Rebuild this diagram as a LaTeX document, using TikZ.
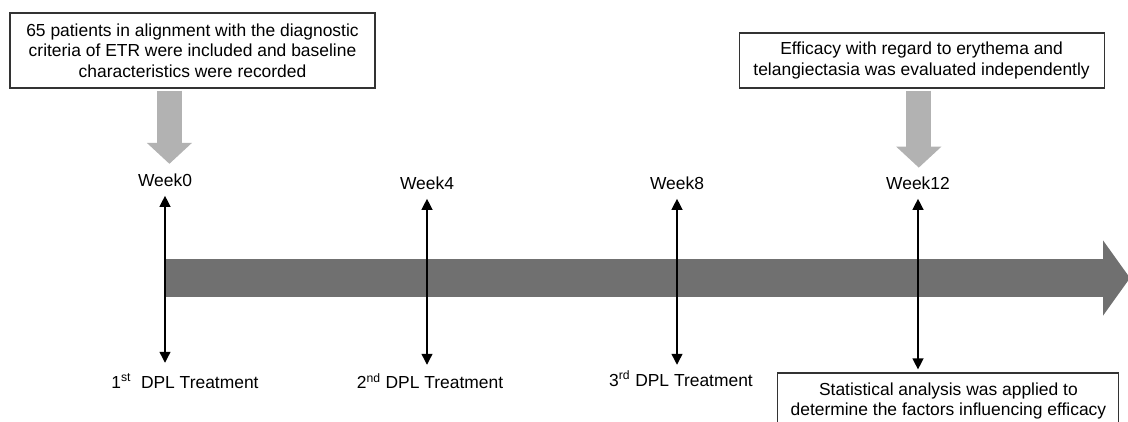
\documentclass[tikz,border=0pt]{standalone}
\usepackage{fontspec}
\setmainfont{Liberation Sans}
\usepackage{tikz}
\usetikzlibrary{positioning,calc,arrows.meta}
\definecolor{bargray}{RGB}{112,112,112}
\definecolor{pointgray}{RGB}{178,178,178}

\begin{document}
\begin{tikzpicture}[
    txt/.style={font=\fontsize{12.4}{14.5}\selectfont},
    box/.style={txt, draw=black!80, line width=0.8pt, align=center, inner sep=2pt},
    dbl/.style={{Triangle[width=0.26cm,length=0.28cm]}-{Triangle[width=0.26cm,length=0.28cm]}, line width=2pt, shorten <=3pt},
    fatdown/.style={-{Triangle[width=1.1cm,length=0.525cm]}, line width=0.625cm, pointgray},
    bar/.style={-{Triangle[width=1.85cm,length=0.675cm]}, line width=0.95cm, bargray}
]
    \useasboundingbox (0,0) rectangle (28.2,-10.525);
    \clip (0,0) rectangle (28.2,-10.525);

    % --- Boxes ---
    \node[box, minimum width=9.125cm, minimum height=1.875cm] (pt) at (4.8125,-1.2625) {65 patients in alignment with the diagnostic\\criteria of ETR were included and baseline\\characteristics were recorded};
    \node[box, minimum width=9.125cm, minimum height=1.375cm] (ev) at (23.04,-1.5125) {Efficacy with regard to erythema and\\telangiectasia was evaluated independently};
    \node[box, minimum width=8.525cm, minimum height=1.4cm] (sa) at (23.71,-10.025) {Statistical analysis was applied to\\determine the factors influencing efficacy};

    % --- Weeks ---
    \node[txt] (w0) at (4.125,-4.5) {Week0};
    \node[txt] (w4) at (10.675,-4.575) {Week4};
    \node[txt] (w8) at (16.925,-4.575) {Week8};
    \node[txt] (w12) at (22.95,-4.575) {Week12};

    % --- Treatments ---
    \node[txt, anchor=base] (t1) at (4.625,-9.7) {1\textsuperscript{st}\ \ DPL Treatment};
    \node[txt, anchor=base] (t2) at (10.75,-9.72) {2\textsuperscript{nd} DPL Treatment};
    \node[txt, anchor=base] (t3) at (17.025,-9.65) {3\textsuperscript{rd} DPL Treatment};

    % --- Time axis ---
    \coordinate (bs) at (4.125,-6.95);
    \coordinate (be) at (28.25,-6.95);
    \draw[bar] (bs) -- (be);

    % --- Gray pointers ---
    \draw[fatdown] ($(pt.south -| w0)+(0.11,-0.05)$) -- ($(w0.north)+(0.11,0.12)$);
    \draw[fatdown] ($(ev.south -| w12)+(0.02,-0.05)$) -- ($(w12.north)+(0.02,0.1)$);

    % --- Visits ---
    \coordinate (b0) at (4.125,-9.075);
    \coordinate (b4) at (10.7,-9.125);
    \coordinate (b8) at (16.9,-9.125);
    \draw[dbl] (w0.south) -- (b0);
    \draw[dbl] (w4.south) -- (b4 -| w4);
    \draw[dbl] (w8.south) -- (b8 -| w8);
    \draw[dbl, shorten >=2pt] (w12.south) -- (w12.south |- sa.north);
\end{tikzpicture}
\end{document}
